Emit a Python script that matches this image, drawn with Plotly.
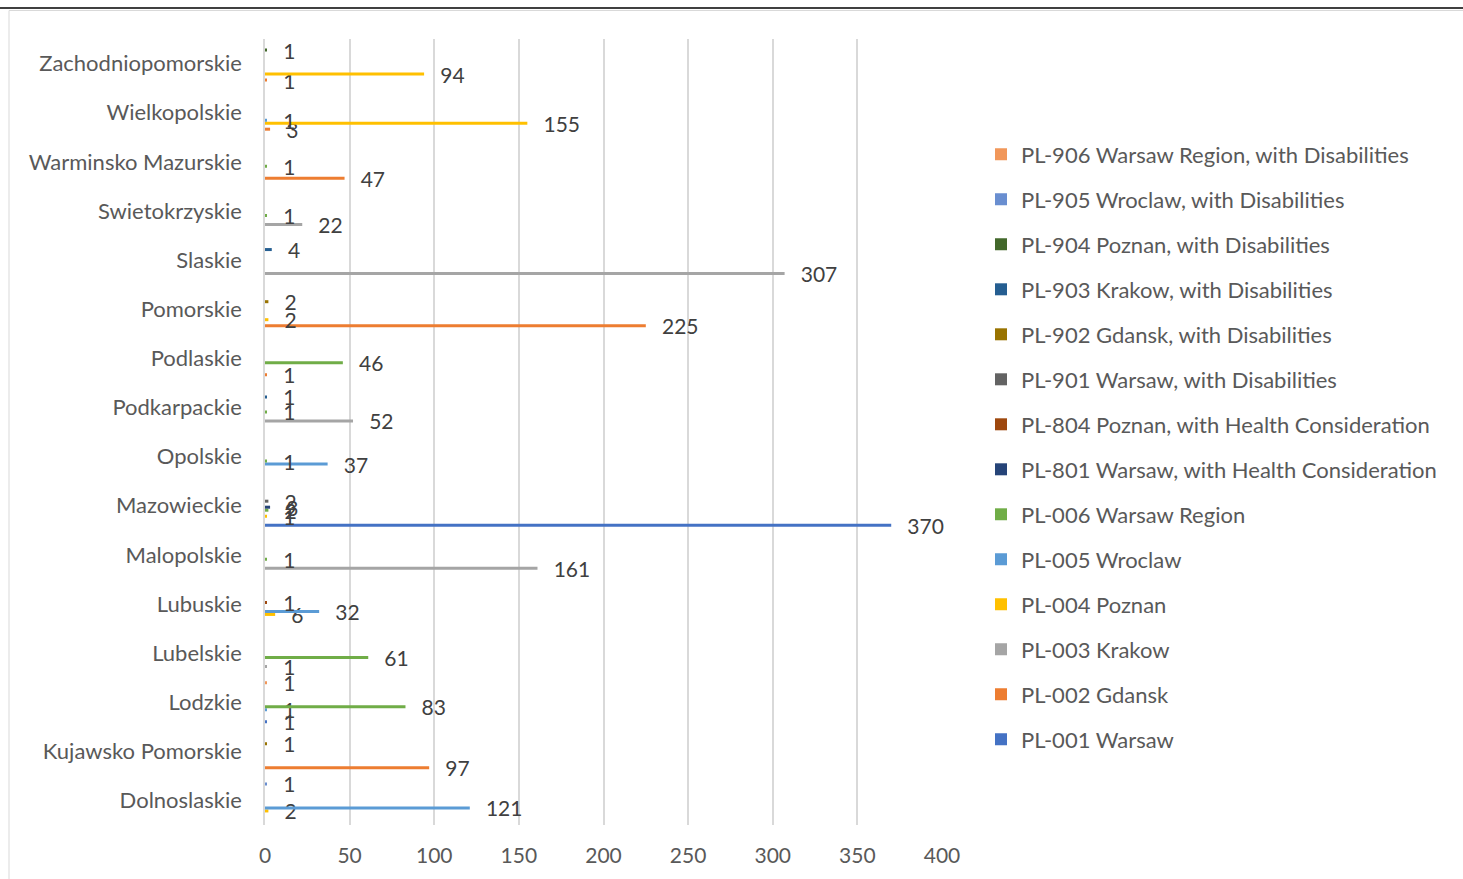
import plotly.graph_objects as go

categories = ["Dolnoslaskie", "Kujawsko Pomorskie", "Lodzkie", "Lubelskie", "Lubuskie",
              "Malopolskie", "Mazowieckie", "Opolskie", "Podkarpackie", "Podlaskie",
              "Pomorskie", "Slaskie", "Swietokrzyskie", "Warminsko Mazurskie",
              "Wielkopolskie", "Zachodniopomorskie"]

N = None
pl001 = [N, N, 1, N, N, N, 370, N, N, N, N, N, N, N, N, N]
pl002 = [N, 97, N, N, N, N, N, N, N, 1, 225, N, N, 47, 3, 1]
pl003 = [N, N, N, 1, N, 161, N, N, 52, N, N, 307, 22, N, N, N]
pl004 = [2, N, N, N, 6, N, 1, N, N, N, 2, N, N, N, 155, 94]
pl005 = [121, N, 1, N, 32, N, N, 37, N, N, N, N, N, N, 1, N]
pl006 = [N, N, 83, 61, N, 1, 2, 1, 1, 46, N, N, 1, 1, N, N]
pl801 = [N, N, N, N, N, N, 3, N, N, N, N, N, N, N, N, N]
pl804 = [N, N, N, N, 1, N, N, N, N, N, N, N, N, N, N, N]
pl901 = [N, N, N, N, N, N, 2, N, N, N, N, N, N, N, N, N]
pl902 = [N, 1, N, N, N, N, N, N, N, N, 2, N, N, N, N, N]
pl903 = [N, N, N, N, N, N, N, N, 1, N, N, 4, N, N, N, N]
pl904 = [N, N, N, N, N, N, N, N, N, N, N, N, N, N, N, 1]
pl905 = [1, N, N, N, N, N, N, N, N, N, N, N, N, N, N, N]
pl906 = [N, N, 1, N, N, N, N, N, N, N, N, N, N, N, N, N]

series_names = ["PL-001 Warsaw", "PL-002 Gdansk", "PL-003 Krakow", "PL-004 Poznan",
                "PL-005 Wroclaw", "PL-006 Warsaw Region",
                "PL-801 Warsaw, with Health Consideration",
                "PL-804 Poznan, with Health Consideration",
                "PL-901 Warsaw, with Disabilities", "PL-902 Gdansk, with Disabilities",
                "PL-903 Krakow, with Disabilities", "PL-904 Poznan, with Disabilities",
                "PL-905 Wroclaw, with Disabilities",
                "PL-906 Warsaw Region, with Disabilities"]
series_values = [pl001, pl002, pl003, pl004, pl005, pl006, pl801, pl804,
                 pl901, pl902, pl903, pl904, pl905, pl906]
colors = ["#4472C4", "#ED7D31", "#A5A5A5", "#FFC000", "#5B9BD5", "#70AD47",
          "#264478", "#9E480E", "#636363", "#997300", "#255E91", "#43682B",
          "#698ED0", "#F1975A"]

x_ticks = [0, 50, 100, 150, 200, 250, 300, 350, 400]

FONT = "Lato"
W, H = 1463, 879
L, R, T, B = 265, 942, 39, 825

fig = go.Figure()
n = len(series_names)
for i, (name, vals, col) in enumerate(zip(series_names, series_values, colors)):
    fig.add_trace(go.Bar(
        y=categories, x=vals, name=name, orientation="h",
        marker=dict(color=col, line=dict(width=0)),
        text=[("\u00a0\u00a0\u00a0" + str(v)) if v is not None else "" for v in vals],
        textposition="outside", constraintext="none", cliponaxis=False,
        textfont=dict(family=FONT, size=21, color="#404040"),
        legendgroup=f"g{n - i:02d}", legendrank=n - i,
    ))

def px_x(p):
    return (p - L) / (R - L)

def px_y(p):
    return (B - p) / (B - T)

shapes = [
    dict(type="line", xref="paper", yref="paper", x0=px_x(0), x1=px_x(W),
         y0=px_y(8), y1=px_y(8), line=dict(color="#000000", width=1.5)),
    dict(type="line", xref="paper", yref="paper", x0=px_x(9), x1=px_x(W),
         y0=px_y(10.5), y1=px_y(10.5), line=dict(color="#D9D9D9", width=1)),
    dict(type="line", xref="paper", yref="paper", x0=px_x(9), x1=px_x(9),
         y0=px_y(10.5), y1=px_y(H), line=dict(color="#D9D9D9", width=1)),
]

fig.update_layout(
    width=W, height=H,
    margin=dict(l=L, r=W - R, t=T, b=H - B, pad=0),
    paper_bgcolor="white", plot_bgcolor="white",
    barmode="group", bargap=0.145, bargroupgap=0,
    font=dict(family=FONT, size=22, color="#595959"),
    showlegend=True,
    legend=dict(traceorder="grouped", tracegroupgap=13.4,
                x=px_x(981), xanchor="left", y=px_y(447), yanchor="middle",
                font=dict(family=FONT, size=22, color="#595959"),
                bgcolor="rgba(0,0,0,0)"),
    shapes=shapes,
    xaxis=dict(range=[0, 400], tickvals=x_ticks, showgrid=True, gridcolor="#D9D9D9",
               gridwidth=1.5, zeroline=False, showline=False, ticks="",
               tickfont=dict(family=FONT, size=21, color="#595959"),
               ticklabelstandoff=16),
    yaxis=dict(categoryorder="array", categoryarray=categories, showgrid=False,
               showline=True, linecolor="#D9D9D9", linewidth=1.5, ticks="",
               tickfont=dict(family=FONT, size=22, color="#595959"),
               ticklabelstandoff=17),
)

fig.write_html("out.html", config={"displayModeBar": False},
               post_script="document.body.style.margin='0';")
